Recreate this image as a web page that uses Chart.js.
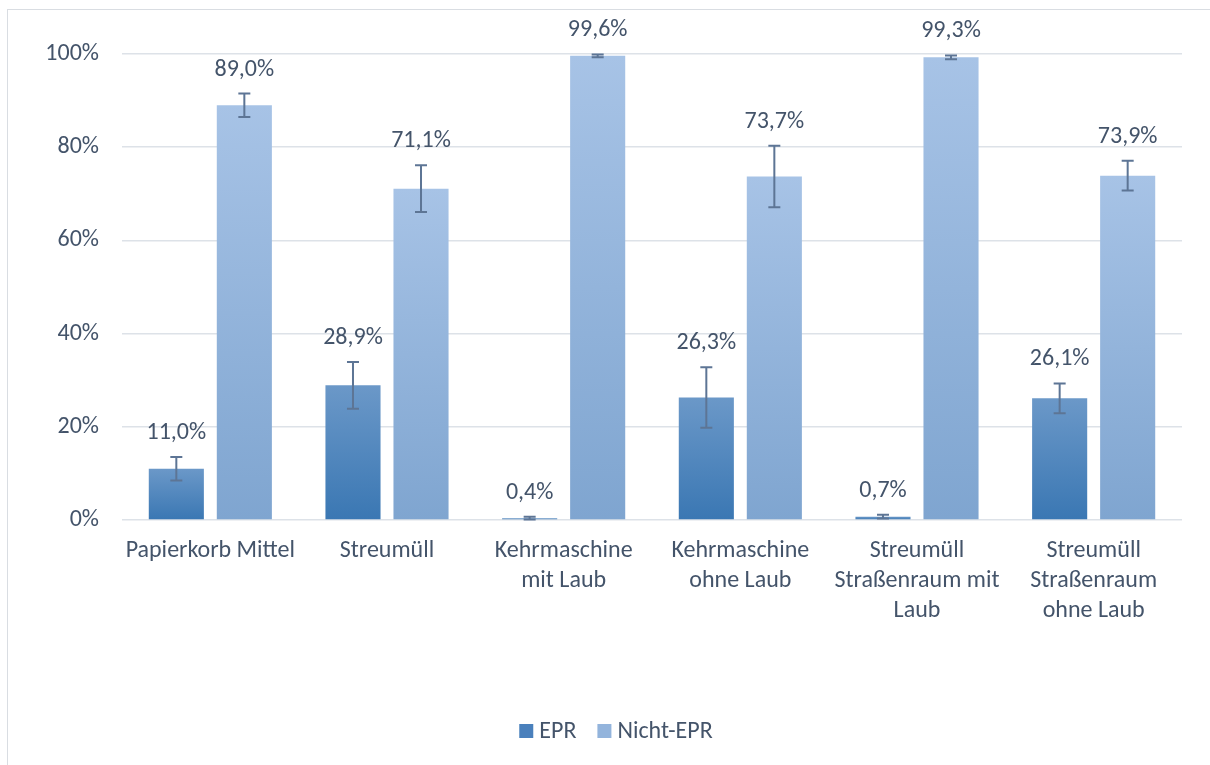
<!DOCTYPE html>
<html>
<head>
<meta charset="utf-8">
<script src="https://cdn.jsdelivr.net/npm/chart.js@4.4.1/dist/chart.umd.min.js"></script>
<style>
  html, body { margin: 0; padding: 0; background: #ffffff; }
  #wrap { position: relative; width: 1210px; height: 765px; overflow: hidden; }
  #frame { position: absolute; left: 7px; top: 9px; width: 1400px; height: 1000px; border: 1px solid #d9dde2; box-sizing: border-box; }
  #c { position: absolute; left: 0; top: 0; }
</style>
</head>
<body>
<div id="wrap">
  <div id="frame"></div>
  <canvas id="c" width="1210" height="765"></canvas>
</div>
<script>
const categories = [
  ['Papierkorb Mittel'],
  ['Streumüll'],
  ['Kehrmaschine', 'mit Laub'],
  ['Kehrmaschine', 'ohne Laub'],
  ['Streumüll', 'Straßenraum mit', 'Laub'],
  ['Streumüll', 'Straßenraum', 'ohne Laub']
];
const seriesNames = ['EPR', 'Nicht-EPR'];
const eprValues = [11.0, 28.9, 0.4, 26.3, 0.7, 26.1];
const nichtEprValues = [89.0, 71.1, 99.6, 73.7, 99.3, 73.9];
const eprErrors = [2.5, 5.0, 0.3, 6.5, 0.4, 3.2];
const nichtEprErrors = [2.5, 5.0, 0.3, 6.6, 0.4, 3.2];
const yTicks = [0, 20, 40, 60, 80, 100];

const FONT = "Carlito, Lato, 'Open Sans', sans-serif";
const FSIZE = 24;
const TEXT = '#44546a';
const LEGEND_COLORS = ['#4a80bc', '#93b4dc'];

function barGradient(top, bottom) {
  return function (ctx) {
    const chart = ctx.chart;
    if (!chart.chartArea || ctx.type !== 'data') return bottom;
    const ys = chart.scales.y;
    const v = ctx.raw;
    const y0 = ys.getPixelForValue(0);
    const y1 = ys.getPixelForValue(v);
    if (Math.abs(y0 - y1) < 1) return bottom;
    const g = chart.ctx.createLinearGradient(0, y1, 0, y0);
    g.addColorStop(0, top);
    g.addColorStop(1, bottom);
    return g;
  };
}

const errorBars = {
  id: 'errorBars',
  afterDatasetsDraw(chart) {
    const ctx = chart.ctx;
    const ys = chart.scales.y;
    ctx.save();
    ctx.strokeStyle = '#5d7595';
    ctx.lineWidth = 2;
    chart.data.datasets.forEach((ds, di) => {
      const meta = chart.getDatasetMeta(di);
      meta.data.forEach((el, i) => {
        const v = ds.data[i], e = ds.errors[i];
        const yt = ys.getPixelForValue(v + e);
        const yb = ys.getPixelForValue(v - e);
        ctx.beginPath();
        ctx.moveTo(el.x, yt); ctx.lineTo(el.x, yb);
        ctx.moveTo(el.x - 6, yt); ctx.lineTo(el.x + 6, yt);
        ctx.moveTo(el.x - 6, yb); ctx.lineTo(el.x + 6, yb);
        ctx.stroke();
      });
    });
    ctx.restore();
  }
};

const valueLabels = {
  id: 'valueLabels',
  afterDatasetsDraw(chart) {
    const ctx = chart.ctx;
    const ys = chart.scales.y;
    ctx.save();
    ctx.fillStyle = TEXT;
    ctx.font = FSIZE + 'px ' + FONT;
    ctx.textAlign = 'center';
    ctx.textBaseline = 'middle';
    chart.data.datasets.forEach((ds, di) => {
      const meta = chart.getDatasetMeta(di);
      meta.data.forEach((el, i) => {
        const v = ds.data[i], e = ds.errors[i];
        const y = ys.getPixelForValue(v + e) - 24;
        ctx.fillText(v.toFixed(1).replace('.', ',') + '%', el.x, y);
      });
    });
    ctx.restore();
  }
};

const bottomLegend = {
  id: 'bottomLegend',
  afterDraw(chart) {
    const ctx = chart.ctx;
    ctx.save();
    ctx.font = FSIZE + 'px ' + FONT;
    ctx.textBaseline = 'middle';
    ctx.textAlign = 'left';
    const box = 14, gapText = 6, gapItem = 21;
    const names = chart.data.datasets.map(d => d.label);
    const widths = names.map(n => ctx.measureText(n).width);
    const total = widths.reduce((a, w) => a + box + gapText + w, 0) + gapItem * (names.length - 1);
    let x = chart.width / 2 + 11 - total / 2;
    const y = 731;
    names.forEach((n, i) => {
      ctx.fillStyle = LEGEND_COLORS[i];
      ctx.fillRect(x, y - box / 2, box, box);
      ctx.fillStyle = TEXT;
      ctx.fillText(n, x + box + gapText, y + 1);
      x += box + gapText + widths[i] + gapItem;
    });
    ctx.restore();
  }
};

new Chart(document.getElementById('c'), {
  type: 'bar',
  data: {
    labels: categories,
    datasets: [
      {
        label: seriesNames[0],
        data: eprValues,
        errors: eprErrors,
        backgroundColor: barGradient('#6b98c8', '#3a77b3'),
        barPercentage: 0.81,
        categoryPercentage: 0.77
      },
      {
        label: seriesNames[1],
        data: nichtEprValues,
        errors: nichtEprErrors,
        backgroundColor: barGradient('#a7c3e6', '#7fa5d0'),
        barPercentage: 0.81,
        categoryPercentage: 0.77
      }
    ]
  },
  options: {
    responsive: false,
    animation: false,
    layout: { padding: { left: 0, right: 28, top: 54, bottom: 0 } },
    plugins: {
      tooltip: { enabled: false },
      legend: { display: false }
    },
    scales: {
      x: {
        grid: { display: false, drawTicks: false },
        border: { display: false },
        ticks: {
          color: TEXT,
          font: { family: FONT, size: FSIZE, lineHeight: 1.25 },
          padding: 16,
          maxRotation: 0,
          autoSkip: false
        },
        afterFit(scale) { scale.height = 245; }
      },
      y: {
        min: 0,
        max: 100,
        afterBuildTicks(scale) { scale.ticks = yTicks.map(v => ({ value: v })); },
        grid: { color: '#dde2e8', lineWidth: 1.5, drawTicks: false },
        border: { display: false },
        ticks: {
          color: TEXT,
          font: { family: FONT, size: FSIZE },
          padding: 23,
          callback: v => v + '%'
        },
        afterFit(scale) { scale.width = 122; }
      }
    }
  },
  plugins: [errorBars, valueLabels, bottomLegend]
});
</script>
</body>
</html>
